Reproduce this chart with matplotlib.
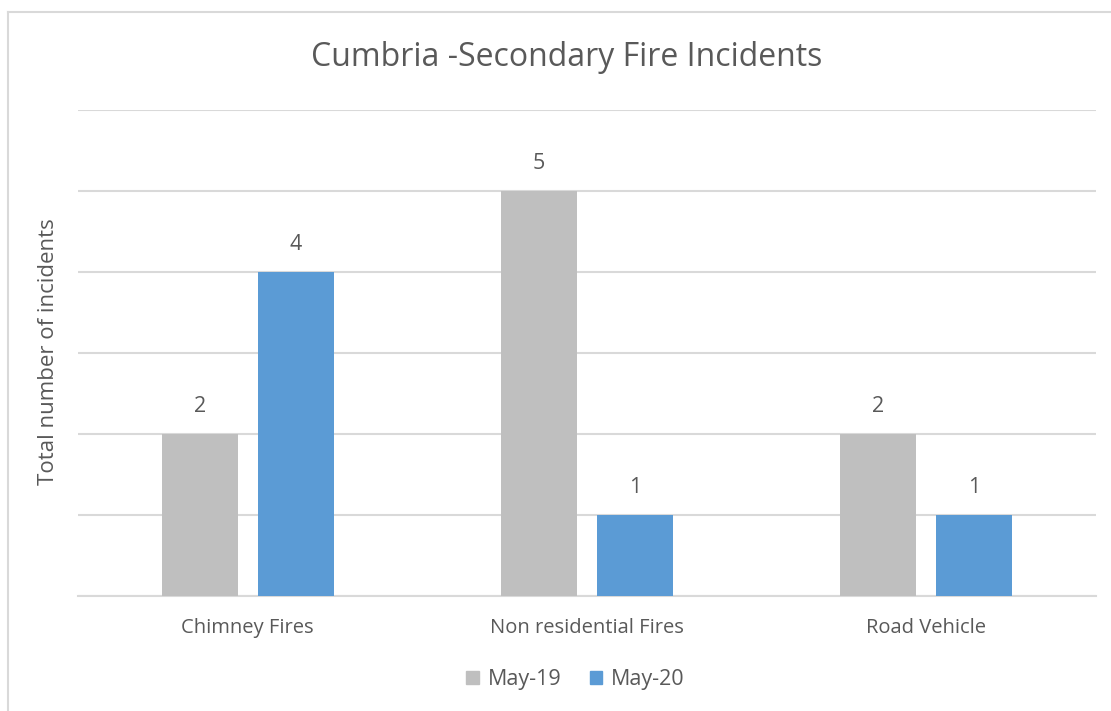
import matplotlib.pyplot as plt
import numpy as np
from matplotlib.lines import Line2D
from matplotlib.patches import Patch

categories = ["Chimney Fires", "Non residential Fires", "Road Vehicle"]
may19 = [2, 5, 2]
may20 = [4, 1, 1]
series_names = ["May-19", "May-20"]

grey = "#BFBFBF"
blue = "#5B9BD5"
txt = "#595959"
gridc = "#D9D9D9"

plt.rcParams['font.family'] = ['Open Sans', 'DejaVu Sans']

fig = plt.figure(figsize=(11.11, 7.11), dpi=100)
ax = fig.add_axes([0.0702, 0.1617, 0.9163, 0.6836])

x = np.arange(len(categories))
w = 0.224
off = 0.1415
b1 = ax.bar(x - off, may19, width=w, color=grey, zorder=3)
b2 = ax.bar(x + off, may20, width=w, color=blue, zorder=3)

# value labels above bars
for bars, vals in ((b1, may19), (b2, may20)):
    for rect, v in zip(bars, vals):
        ax.annotate(str(v), (rect.get_x() + rect.get_width() / 2, v),
                    xytext=(0, 19.5), textcoords="offset points",
                    ha="center", va="center", fontsize=15.5, color=txt)

ax.set_xlim(-0.5, 2.5)
ax.set_ylim(0, 6)
ax.set_yticks(range(0, 7))
ax.set_yticklabels([])
ax.tick_params(axis="y", length=0)
ax.set_xticks(x)
ax.set_xticklabels(categories, fontsize=14.5, color=txt)
ax.tick_params(axis="x", length=0, pad=16)
ax.grid(axis="y", color=gridc, linewidth=1.5, zorder=0)
for s in ("top", "right", "left"):
    ax.spines[s].set_visible(False)
ax.spines["bottom"].set_color(gridc)
ax.spines["bottom"].set_linewidth(1.5)

ax.set_ylabel("Total number of incidents", fontsize=16, color=txt)
ax.yaxis.set_label_coords(-0.0185, 0.502)

fig.text(0.510, 1 - 57 / 711, "Cumbria -Secondary Fire Incidents", ha="center", va="center",
         fontsize=23, color=txt)

handles = [Patch(color=grey), Patch(color=blue)]
fig.legend(handles, series_names, loc="center", bbox_to_anchor=(0.518, 0.044),
           ncol=2, frameon=False, fontsize=15.5, labelcolor=txt,
           handlelength=0.6, handleheight=0.6, handletextpad=0.4, columnspacing=1.3)

# outer chart frame
fig.add_artist(Line2D([8 / 1111, 1], [1 - 12 / 711, 1 - 12 / 711], color=gridc, linewidth=1.5))
fig.add_artist(Line2D([8 / 1111, 8 / 1111], [0, 1 - 12 / 711], color=gridc, linewidth=1.5))

fig.savefig("out.png", dpi=100, facecolor="white")
